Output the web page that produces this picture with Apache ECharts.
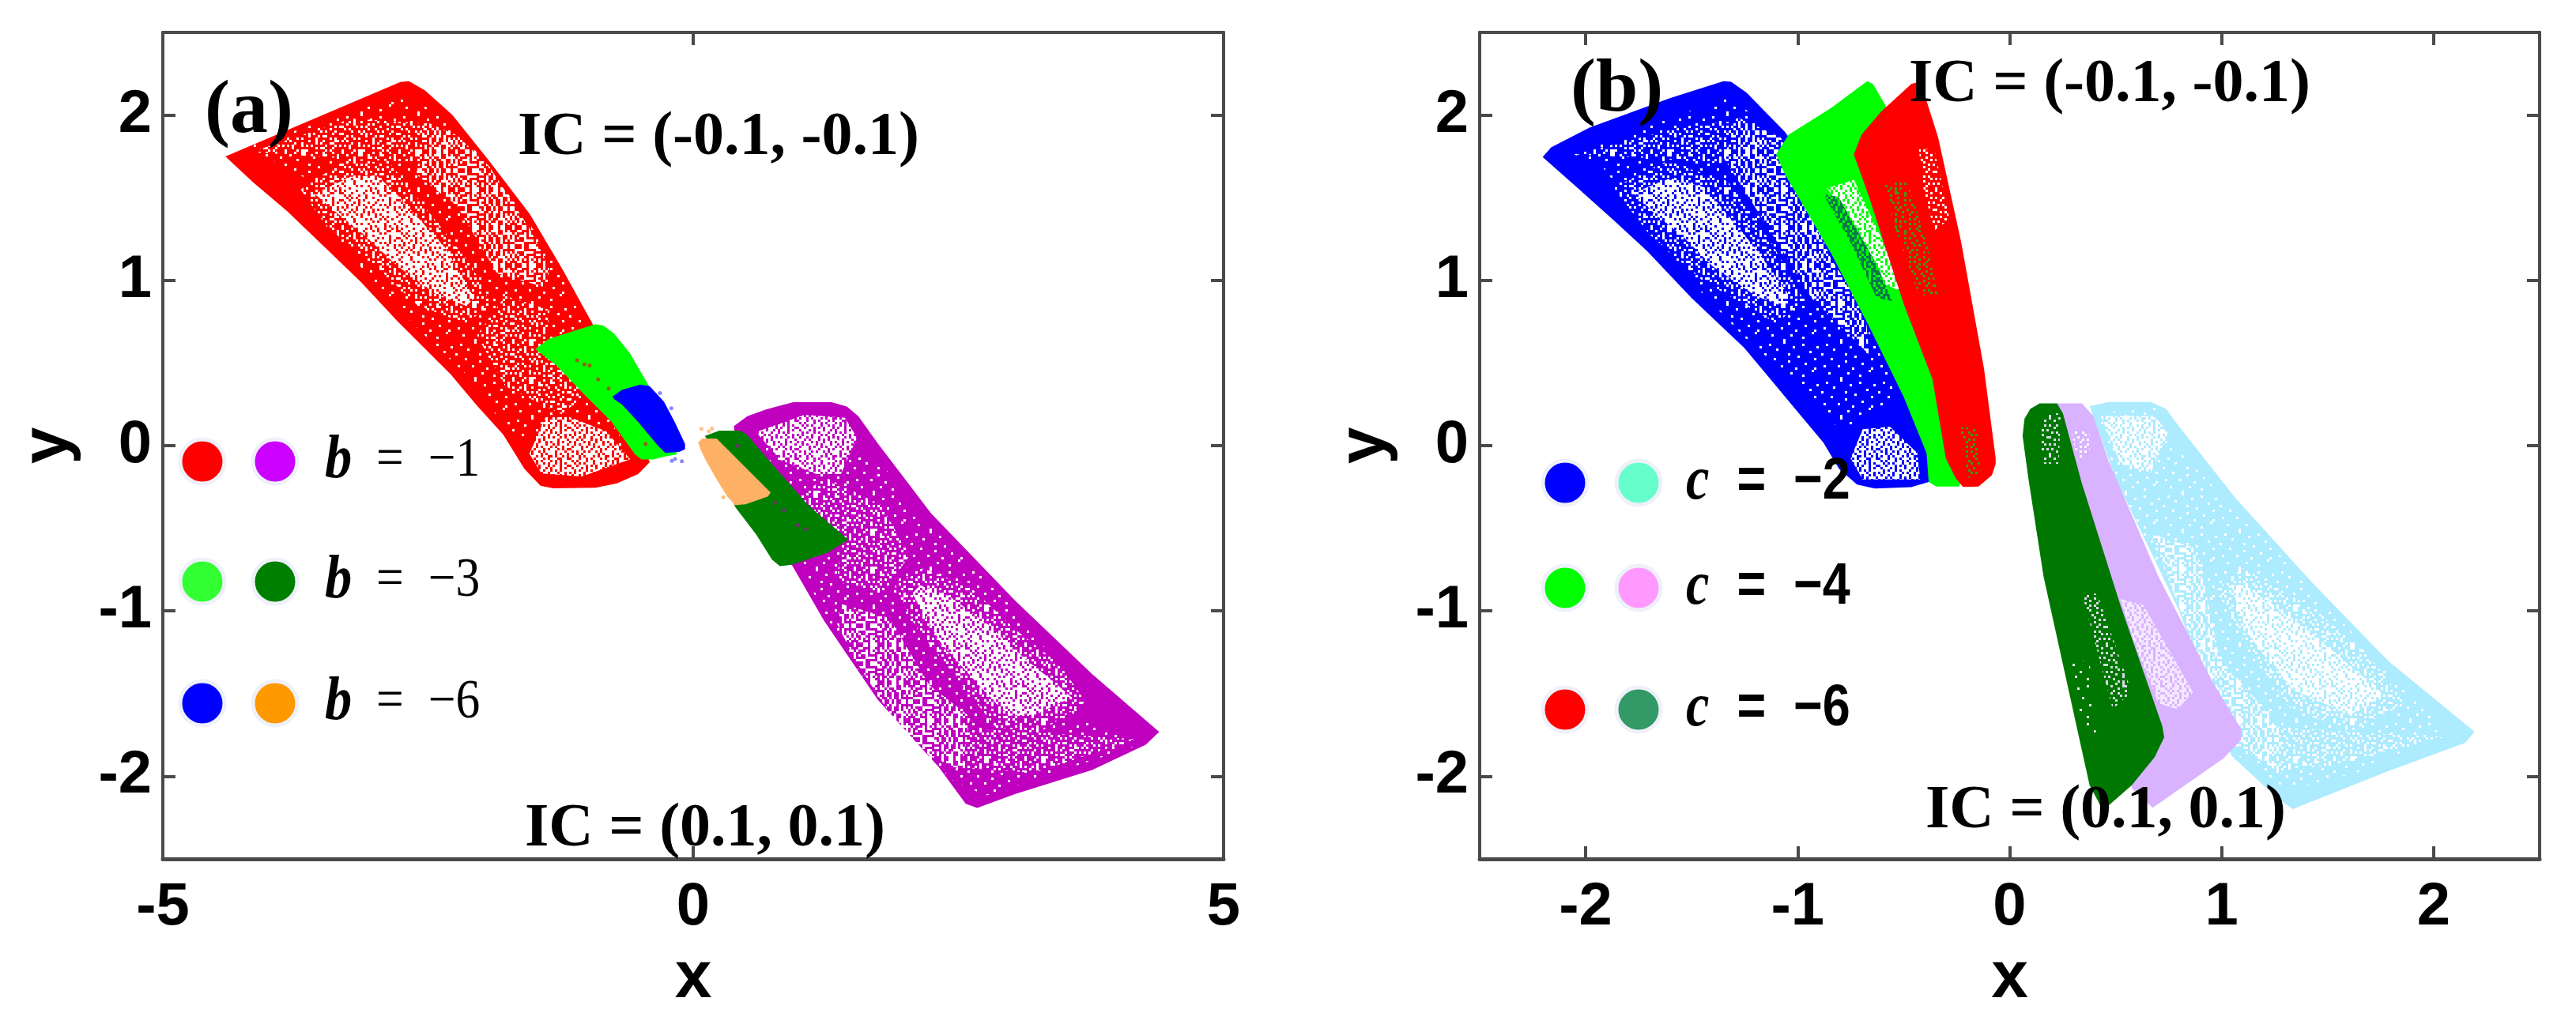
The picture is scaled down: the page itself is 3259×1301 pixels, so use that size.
<!DOCTYPE html>
<html><head><meta charset="utf-8">
<style>html,body{margin:0;padding:0;background:#fff}#c{width:3259px;height:1301px}</style>
<script src="https://cdn.jsdelivr.net/npm/echarts@6/dist/echarts.min.js"></script>
</head><body><div id="c"></div>
<script>
// ---- tick labels
const xTicksA=[-5,0,5];
const xTicksB=[-2,-1,0,1,2];
const yTicks=[-2,-1,0,1,2];
// ---- panel (a) attractor outlines [x,y]
const redA=[[-4.41,1.75],[-2.76,2.2],[-2.68,2.205],[-2.53,2.15],[-2.27,2.0],[-1.92,1.72],[-1.54,1.4],[-1.24,1.076],[-0.955,0.745],[-0.6,0.2],[-0.41,-0.1],[-0.52,-0.172],[-0.72,-0.228],[-0.92,-0.255],[-1.32,-0.258],[-1.44,-0.243],[-1.592,-0.14],[-1.791,0.067],[-2.039,0.242],[-2.288,0.433],[-2.536,0.592],[-2.785,0.751],[-3.132,0.99],[-3.455,1.189],[-3.828,1.419],[-4.151,1.594]];
const purpleA=[[0.384,0.118],[0.51,0.178],[0.69,0.22],[0.943,0.263],[1.304,0.263],[1.449,0.237],[1.557,0.178],[1.738,0.016],[2.243,-0.41],[3.038,-0.939],[3.76,-1.382],[4.393,-1.732],[4.266,-1.809],[3.76,-1.962],[3.038,-2.107],[2.677,-2.192],[2.569,-2.167],[2.316,-1.945],[1.738,-1.536],[1.232,-1.058],[0.926,-0.717],[0.437,-0.205]];
const greenA=[[-1.49,0.584],[-1.356,0.648],[-0.92,0.735],[-0.847,0.727],[-0.747,0.679],[-0.598,0.56],[-0.425,0.369],[-0.151,-0.053],[-0.276,-0.067],[-0.375,-0.084],[-0.487,-0.084],[-0.549,-0.053],[-0.773,0.147],[-1.02,0.305],[-1.294,0.488]];
const darkGreenA=[[0.11,0.059],[0.246,0.091],[0.445,0.091],[0.507,0.067],[0.718,-0.092],[1.09,-0.363],[1.463,-0.569],[1.264,-0.649],[0.929,-0.721],[0.817,-0.729],[0.743,-0.689],[0.594,-0.538],[0.395,-0.371],[0.194,-0.029]];
const blueA=[[-0.76,0.297],[-0.673,0.337],[-0.499,0.369],[-0.412,0.361],[-0.276,0.266],[-0.177,0.147],[-0.077,0.011],[-0.077,-0.021],[-0.127,-0.037],[-0.263,-0.044],[-0.326,-0.005],[-0.524,0.147],[-0.673,0.25],[-0.747,0.282]];
const orangeA=[[0.047,0.019],[0.084,0.043],[0.221,0.043],[0.296,-0.005],[0.73,-0.283],[0.705,-0.307],[0.494,-0.355],[0.395,-0.36],[0.32,-0.307],[0.221,-0.204],[0.121,-0.092],[0.072,-0.029]];
// ---- panel (a) speckled zones
const redSparse=[[-4.205,1.809],[-2.761,2.116],[-2.457,2.03],[-2.038,1.775],[-1.582,1.383],[-1.316,1.11],[-1.05,0.786],[-0.86,0.224],[-0.632,0.002],[-1.012,-0.168],[-1.506,0.019],[-1.791,0.115],[-2.039,0.369],[-2.511,0.655],[-2.934,0.926],[-3.405,1.292],[-3.679,1.626]];
const redTipBand=[[-4.167,1.776],[-3.217,1.979],[-2.457,1.946],[-2.153,1.724],[-2.837,1.72],[-3.559,1.749]];
const redBandUp=[[-2.533,1.962],[-2.228,1.877],[-1.924,1.69],[-1.544,1.315],[-1.354,1.076],[-1.392,0.957],[-1.848,1.042],[-2.228,1.451],[-2.609,1.639]];
const redBandLow=[[-2.038,0.667],[-1.772,0.906],[-1.354,0.821],[-1.392,0.616],[-1.012,0.309],[-1.24,0.19],[-1.772,0.36]];
const redHalo=[[-3.7,1.55],[-3.25,1.74],[-2.85,1.7],[-2.5,1.42],[-2.1,1.1],[-1.9,0.85],[-2.15,0.74],[-2.6,0.85],[-3.05,1.12],[-3.45,1.32]];
const redCore=[[-3.567,1.523],[-3.232,1.626],[-2.983,1.634],[-2.809,1.531],[-2.338,1.197],[-2.064,0.894],[-2.139,0.846],[-2.412,0.91],[-2.785,1.085],[-3.132,1.292],[-3.381,1.419]];
const redFoot=[[-1.544,-0.049],[-1.392,0.172],[-1.164,0.172],[-0.822,0.087],[-0.594,-0.083],[-1.05,-0.186],[-1.43,-0.169]];
const purpleSparse=[[4.205,-1.809],[2.761,-2.116],[2.457,-2.03],[2.038,-1.775],[1.582,-1.383],[1.316,-1.11],[1.05,-0.786],[0.86,-0.224],[0.632,-0.002],[1.012,0.168],[1.506,-0.019],[1.791,-0.115],[2.039,-0.369],[2.511,-0.655],[2.934,-0.926],[3.405,-1.292],[3.679,-1.626]];
const purpleTipBand=[[4.167,-1.776],[3.217,-1.979],[2.457,-1.946],[2.153,-1.724],[2.837,-1.72],[3.559,-1.749]];
const purpleBandUp=[[2.533,-1.962],[2.228,-1.877],[1.924,-1.69],[1.544,-1.315],[1.354,-1.076],[1.392,-0.957],[1.848,-1.042],[2.228,-1.451],[2.609,-1.639]];
const purpleBandLow=[[2.038,-0.667],[1.772,-0.906],[1.354,-0.821],[1.392,-0.616],[1.012,-0.309],[1.24,-0.19],[1.772,-0.36]];
const purpleHalo=[[3.7,-1.55],[3.25,-1.74],[2.85,-1.7],[2.5,-1.42],[2.1,-1.1],[1.9,-0.85],[2.15,-0.74],[2.6,-0.85],[3.05,-1.12],[3.45,-1.32]];
const purpleCore=[[3.567,-1.523],[3.232,-1.626],[2.983,-1.634],[2.809,-1.531],[2.338,-1.197],[2.064,-0.894],[2.139,-0.846],[2.412,-0.91],[2.785,-1.085],[3.132,-1.292],[3.381,-1.419]];
const purpleFoot=[[1.544,0.049],[1.392,-0.172],[1.164,-0.172],[0.822,-0.087],[0.594,0.083],[1.05,0.186],[1.43,0.169]];
// ---- stray points in panel (a)
const strayBlueA=[[-0.201,-0.092],[-0.171,-0.08],[-0.107,-0.095],[-0.313,0.318],[-0.206,0.226]];
const strayOrangeA=[[0.077,0.102],[0.147,0.087],[0.177,0.104],[0.283,-0.312]];
const strayBrickA=[[-1.095,0.516],[-1.026,0.492],[-0.976,0.485],[-0.896,0.401],[-0.797,0.345],[-0.449,0.011]];
const strayPurpleA=[[0.42,-0.001],[0.768,-0.344],[0.855,-0.391],[0.986,-0.482],[1.066,-0.506]];
// ---- panel (b) attractor outlines
const blueB=[[-2.203,1.746],[-2.163,1.804],[-1.982,1.924],[-1.603,2.102],[-1.35,2.205],[-1.314,2.201],[-1.241,2.136],[-1.06,1.898],[-0.95,1.7],[-0.6,1.0],[-0.38,-0.1],[-0.382,-0.22],[-0.464,-0.251],[-0.636,-0.259],[-0.72,-0.235],[-0.805,-0.14],[-0.879,0.019],[-1.004,0.21],[-1.128,0.401],[-1.252,0.592],[-1.501,0.894],[-1.712,1.18],[-1.874,1.371],[-2.048,1.57]];
const greenB=[[-1.102,1.761],[-1.043,1.881],[-0.843,2.042],[-0.672,2.205],[-0.645,2.188],[-0.582,2.051],[-0.4,1.6],[-0.2,0],[-0.237,-0.247],[-0.346,-0.247],[-0.382,-0.22],[-0.392,-0.046],[-0.5,0.295],[-0.663,0.721],[-0.843,1.165],[-1.06,1.642]];
const redB=[[-0.735,1.761],[-0.699,1.881],[-0.609,2.017],[-0.464,2.188],[-0.43,2.2],[-0.392,2.086],[-0.337,1.863],[-0.229,1.233],[-0.121,0.466],[-0.066,-0.076],[-0.066,-0.11],[-0.084,-0.179],[-0.147,-0.247],[-0.22,-0.25],[-0.255,-0.196],[-0.301,-0.076],[-0.364,0.401],[-0.5,0.858],[-0.663,1.505]];
const lightBlueB=[[0.377,0.239],[0.467,0.264],[0.666,0.264],[0.738,0.222],[0.792,0.128],[1.064,-0.315],[1.425,-0.826],[1.787,-1.304],[2.193,-1.73],[2.148,-1.798],[1.787,-1.968],[1.335,-2.199],[1.254,-2.122],[1.046,-1.875],[0.8,-1.0],[0.5,-0.2]];
const lilacB=[[0.223,0.256],[0.341,0.256],[0.395,0.179],[0.467,-0.094],[0.702,-0.792],[0.955,-1.423],[1.091,-1.713],[1.091,-1.781],[1.009,-1.892],[0.675,-2.19],[0.576,-2.071],[0.4,-1.0],[0.25,0]];
const darkGreenB=[[0.142,0.256],[0.223,0.256],[0.251,0.196],[0.341,-0.23],[0.522,-0.963],[0.72,-1.696],[0.729,-1.764],[0.684,-1.884],[0.576,-2.054],[0.44,-2.207],[0.377,-2.054],[0.16,-0.792],[0.088,-0.196],[0.061,0.06],[0.07,0.162],[0.097,0.222]];
// ---- panel (b) speckled zones
const blueSparse=[[-2.054,1.761],[-1.35,2.102],[-1.223,2.017],[-0.735,0.893],[-0.518,0.295],[-0.753,0.125],[-0.817,0.115],[-0.941,0.305],[-1.25,0.655],[-1.513,1.006],[-1.65,1.244],[-1.923,1.69]];
const blueTipBand=[[-2.054,1.761],[-1.53,1.932],[-1.277,1.966],[-1.097,1.71],[-1.386,1.71],[-1.747,1.744]];
const blueBand=[[-1.277,1.983],[-1.079,1.863],[-0.843,1.131],[-0.68,0.807],[-0.663,0.551],[-0.934,0.893],[-1.097,1.233],[-1.35,1.744]];
const blueHalo=[[-1.87,1.56],[-1.62,1.72],[-1.33,1.6],[-1.12,1.22],[-0.97,0.88],[-1.1,0.74],[-1.45,1.0],[-1.7,1.28]];
const blueCore=[[-1.774,1.531],[-1.6,1.618],[-1.438,1.562],[-1.202,1.197],[-1.041,0.91],[-1.078,0.846],[-1.202,0.91],[-1.401,1.085],[-1.55,1.276],[-1.662,1.388]];
const blueFoot=[[-0.75,-0.076],[-0.693,0.099],[-0.565,0.115],[-0.436,-0.044],[-0.422,-0.204],[-0.693,-0.204]];
const greenWhite=[[-0.862,1.557],[-0.735,1.608],[-0.609,1.267],[-0.5,0.926],[-0.591,0.977],[-0.753,1.37]];
const greenBlueStrip=[[-0.88,1.523],[-0.807,1.505],[-0.627,1.096],[-0.554,0.875],[-0.627,0.893],[-0.753,1.233]];
const redGreenDots=[[-0.591,1.591],[-0.482,1.591],[-0.392,1.233],[-0.337,0.909],[-0.428,0.909],[-0.554,1.37]];
const redWhiteDots=[[-0.428,1.795],[-0.356,1.795],[-0.283,1.37],[-0.356,1.301],[-0.41,1.574]];
const redFootDots=[[-0.237,0.111],[-0.147,0.111],[-0.138,-0.179],[-0.201,-0.196]];
const lightBlueSparse=[[0.702,0.231],[0.792,-0.025],[1.245,-0.622],[2.039,-1.713],[1.714,-1.952],[1.317,-2.088],[1.046,-1.849],[0.557,-0.366],[0.395,0.196]];
const lightBlueTipBand=[[2.054,-1.761],[1.53,-1.932],[1.277,-1.966],[1.097,-1.71],[1.386,-1.71],[1.747,-1.744]];
const lightBlueBand=[[0.666,-0.537],[0.883,-0.622],[0.991,-1.287],[1.281,-1.713],[1.281,-1.986],[1.064,-1.798],[0.847,-1.133]];
const lightBlueHalo=[[1.87,-1.56],[1.62,-1.72],[1.33,-1.6],[1.12,-1.22],[0.97,-0.88],[1.1,-0.74],[1.45,-1.0],[1.7,-1.28]];
const lightBlueCore=[[1.045,-0.843],[1.118,-0.843],[1.425,-1.133],[1.768,-1.508],[1.606,-1.628],[1.335,-1.474],[1.118,-1.133]];
const lightBlueTop=[[0.431,0.179],[0.684,0.179],[0.748,0.077],[0.666,-0.162],[0.522,-0.11]];
const lilacCore=[[0.522,-0.929],[0.63,-0.963],[0.865,-1.491],[0.792,-1.594],[0.702,-1.559],[0.594,-1.219]];
const lilacTop=[[0.287,0.111],[0.377,0.077],[0.377,-0.042],[0.323,-0.11]];
const darkDotsTop=[[0.151,0.196],[0.241,0.196],[0.232,-0.11],[0.151,-0.11]];
const darkDotsMid=[[0.341,-0.895],[0.413,-0.895],[0.576,-1.491],[0.486,-1.594]];
const darkDotsLow=[[0.287,-1.304],[0.377,-1.304],[0.413,-1.815],[0.341,-1.713]];

// ---- fixed speckle textures (style only)
const DENSE=[
"#.##.#.###.#.##..#.##.#.",
".###.##.#.###.#.###..##.",
"#.#.###.##.#.###.#.#.###",
"##.#.#.###.##.#.##.#.#.#",
".##.###.#.#.###.#.##.##.",
"#.###.#.###.##.#.###.#.#",
"##.#.##.#.###.##.#.#.###",
".#.###.###.#.##.###.##.#",
"#.##.#.##.###.#.#.##.#.#",
"###.#.###.#.#.###.#.###.",
".#.###.#.##.##.#.##.#.##",
"##.#.###.#.###.##.#.###.",
"#.###.#.##.#.###.#.##.##",
".##.#.###.###.#.###.#.#.",
"#.#.##.#.##.#.##.#.###.#",
"###.#.##.###.#.###.#.##."];
const MEDIUM=[
"#...#..#.....#..#...#...",
"..#....##..#.....#....#.",
".....#.....#..#.....#...",
"#..#....#......#..#...#.",
"..#..#.....#.#.....#....",
"......#.#.......#....#.#",
".#.#.......#..#....#....",
"....#..#.#.....#.#...#..",
"#.......#...#.......#..#",
"..#.#.....#...#.#.......",
".....#.#.....#.....#.#..",
"#.#.......#.....#.....#.",
"....#..#.....#.#...#....",
".#.....#.#.#.....#...#.#",
"...#.........#.#....#...",
"#....#.#.#.......#.#...."];
const SPARSE=[
"........#...............",
"..#.............#.......",
"............#.........#.",
".....#..................",
"...................#....",
"#.........#.............",
"..............#.........",
"....#................#..",
"..........#.............",
".................#......",
".#.....#................",
".............#.......#..",
"....................#...",
"...#.......#............",
"................#.......",
"........#..............."];
const MEDIUM_ALT=MEDIUM.slice().reverse();
function tile(rows,color){
  const s=3,cv=document.createElement('canvas');
  cv.width=rows[0].length*s;cv.height=rows.length*s;
  const g=cv.getContext('2d');g.fillStyle=color;
  rows.forEach((r,j)=>[...r].forEach((ch,i)=>{if(ch==='#')g.fillRect(i*s,j*s,s,s);}));
  return {image:cv,repeat:'repeat'};
}
const WD=tile(DENSE,'#fff'),WM=tile(MEDIUM,'#fff'),WA=tile(MEDIUM_ALT,'#fff'),WS=tile(SPARSE,'#fff');

function region(panel,points,fill){
  return {type:'custom',coordinateSystem:'cartesian2d',xAxisIndex:panel*2,yAxisIndex:panel*2,
    data:points,encode:{x:0,y:1},silent:true,animation:false,clip:false,
    renderItem:function(p,api){
      if(p.dataIndex!==0)return null;
      return {type:'polygon',shape:{points:points.map(d=>api.coord(d))},style:{fill:fill}};
    }};
}
function stray(points,color){
  return {type:'scatter',xAxisIndex:0,yAxisIndex:0,data:points,symbolSize:5,silent:true,animation:false,
    itemStyle:{color:color}};
}
const AX='#4a4a4a';
function bottomX(i,min,max,ticks){return {gridIndex:i,type:'value',position:'bottom',min:min,max:max,
  name:'x',nameLocation:'middle',nameGap:110,
  nameTextStyle:{fontFamily:'Liberation Sans',fontWeight:'bold',fontSize:84,color:'#000'},
  axisLine:{show:true,onZero:false,lineStyle:{color:AX,width:5}},
  axisTick:{show:true,inside:true,length:16,customValues:ticks,lineStyle:{color:AX,width:4}},
  axisLabel:{show:true,customValues:ticks,margin:24,fontFamily:'Liberation Sans',fontWeight:'bold',fontSize:76,color:'#000',hideOverlap:false,showMinLabel:true,showMaxLabel:true},
  splitLine:{show:false}};}
function topX(i,min,max,ticks){return {gridIndex:i,type:'value',position:'top',min:min,max:max,
  axisLine:{show:true,onZero:false,lineStyle:{color:AX,width:4}},
  axisTick:{show:true,inside:true,length:16,customValues:ticks,lineStyle:{color:AX,width:4}},
  axisLabel:{show:false},splitLine:{show:false}};}
function leftY(i){return {gridIndex:i,type:'value',position:'left',min:-2.5,max:2.5,
  name:'y',nameLocation:'middle',nameGap:102,nameRotate:90,
  nameTextStyle:{fontFamily:'Liberation Sans',fontWeight:'bold',fontSize:84,color:'#000'},
  axisLine:{show:true,onZero:false,lineStyle:{color:AX,width:4}},
  axisTick:{show:true,inside:true,length:16,customValues:yTicks,lineStyle:{color:AX,width:4}},
  axisLabel:{show:true,customValues:yTicks,margin:14,fontFamily:'Liberation Sans',fontWeight:'bold',fontSize:76,color:'#000'},
  splitLine:{show:false}};}
function rightY(i){return {gridIndex:i,type:'value',position:'right',min:-2.5,max:2.5,
  axisLine:{show:true,onZero:false,lineStyle:{color:AX,width:4}},
  axisTick:{show:true,inside:true,length:16,customValues:yTicks,lineStyle:{color:AX,width:4}},
  axisLabel:{show:false},splitLine:{show:false}};}

const series=[
  region(0,redA,'#ff0000'),region(0,redSparse,WS),region(0,redTipBand,WM),region(0,redBandUp,WM),region(0,redBandUp,WA),region(0,redBandLow,WM),region(0,redHalo,WM),region(0,redCore,WD),region(0,redFoot,WD),
  region(0,purpleA,'#bf00bf'),region(0,purpleSparse,WS),region(0,purpleTipBand,WM),region(0,purpleBandUp,WM),region(0,purpleBandUp,WA),region(0,purpleBandLow,WM),region(0,purpleHalo,WM),region(0,purpleCore,WD),region(0,purpleFoot,WD),
  region(0,greenA,'#00ff00'),region(0,darkGreenA,'#007f00'),
  region(0,blueA,'#0000ff'),region(0,orangeA,'#ffb266'),
  stray(strayBlueA,'#6a6aff'),stray(strayOrangeA,'#ffb266'),stray(strayBrickA,'#b04010'),stray(strayPurpleA,'#8a1f8a'),
  region(1,blueB,'#0000ff'),region(1,blueSparse,WS),region(1,blueTipBand,WM),region(1,blueBand,WM),region(1,blueBand,WA),region(1,blueHalo,WM),region(1,blueCore,WD),region(1,blueFoot,WD),
  region(1,greenB,'#00ff00'),region(1,greenWhite,WD),region(1,greenBlueStrip,tile(DENSE,'#0a7a4a')),
  region(1,redB,'#ff0000'),region(1,redGreenDots,tile(MEDIUM,'#3f9a10')),region(1,redWhiteDots,WM),region(1,redFootDots,tile(MEDIUM,'#3f9a10')),
  region(1,lightBlueB,'#adebff'),region(1,lightBlueSparse,WS),region(1,lightBlueTipBand,WM),region(1,lightBlueBand,WM),region(1,lightBlueBand,WA),region(1,lightBlueHalo,WM),region(1,lightBlueCore,WD),region(1,lightBlueTop,WD),
  region(1,lilacB,'#d9b3ff'),region(1,lilacCore,tile(DENSE,'#f4e8ff')),region(1,lilacTop,WM),
  region(1,darkGreenB,'#007700'),region(1,darkDotsTop,tile(MEDIUM,'#d8d8e8')),region(1,darkDotsMid,tile(MEDIUM,'#d8d8e8')),region(1,darkDotsLow,tile(SPARSE,'#e8e8f0'))
];

function note(txt,x,y,size){return {type:'text',x:x,y:y,z:100,style:{text:txt,fill:'#000',font:'bold '+size+'px "Liberation Serif"',textAlign:'left',textVerticalAlign:'middle'}};}
function dot(x,y,color){return {type:'circle',z:90,shape:{cx:x,cy:y,r:28},style:{fill:color,stroke:'#eef1fa',lineWidth:5}};}
function keyA(txt,x,y){return {type:'text',x:x,y:y,z:100,scaleX:.88,style:{text:'{i|b}{n|  =  '+txt+'}',textVerticalAlign:'middle',textAlign:'left',rich:{
  i:{font:'italic bold 78px "Liberation Serif"',fill:'#000'},n:{font:'70px "Liberation Serif"',fill:'#000'}}}};}
function keyB(txt,x,y){return {type:'text',x:x,y:y,z:100,scaleX:.85,style:{text:'{i|c}{n|  =  '+txt+'}',textVerticalAlign:'middle',textAlign:'left',rich:{
  i:{font:'italic bold 78px "Liberation Serif"',fill:'#000'},n:{font:'bold 74px "Liberation Sans"',fill:'#000'}}}};}

const graphics=[
  note('(a)',259,142,96),note('IC = (-0.1, -0.1)',655,175,78),note('IC = (0.1, 0.1)',664,1050,78),
  note('(b)',1987,115,96),note('IC = (-0.1, -0.1)',2415,108,78),note('IC = (0.1, 0.1)',2436,1027,78),
  dot(256,584,'#ff0000'),dot(348,584,'#cc00ff'),keyA('−1',411,584),
  dot(256,736,'#33ff33'),dot(348,736,'#008000'),keyA('−3',411,736),
  dot(256,890,'#0000ff'),dot(348,890,'#ff9900'),keyA('−6',411,890),
  dot(1980,611,'#0000ff'),dot(2073,611,'#66ffcc'),keyB('−2',2133,611),
  dot(1980,744,'#00ff00'),dot(2073,744,'#ff99ff'),keyB('−4',2133,744),
  dot(1980,898,'#ff0000'),dot(2073,898,'#339966'),keyB('−6',2133,898)
];

const chart=echarts.init(document.getElementById('c'),null,{renderer:'canvas'});
chart.setOption({
  backgroundColor:'#fff',animation:false,
  grid:[{left:206,right:1711,top:41,bottom:214,outerBoundsMode:'none'},{left:1872,right:46,top:41,bottom:214,outerBoundsMode:'none'}],
  xAxis:[bottomX(0,-5,5,xTicksA),topX(0,-5,5,xTicksA),bottomX(1,-2.5,2.5,xTicksB),topX(1,-2.5,2.5,xTicksB)],
  yAxis:[leftY(0),rightY(0),leftY(1),rightY(1)],
  series:series,
  graphic:graphics
});
</script></body></html>
